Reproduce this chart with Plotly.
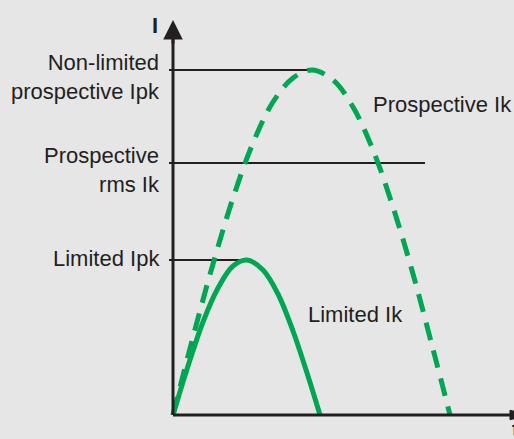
import plotly.graph_objects as go

# curves (t and I in arbitrary units)
t_prospective = [0, 20, 40, 60, 80, 100, 120, 139, 160, 180, 200, 220, 240, 260, 277]
i_prospective = [0, 78, 151, 217, 272, 313, 337, 345, 335, 308, 265, 208, 141, 66, 0]

t_limited = [0, 15, 30, 45, 60, 74, 90, 105, 120, 135, 147]
i_limited = [0, 49, 93, 127, 149, 155, 145, 121, 84, 39, 0]

# horizontal reference levels and how far each line runs
level_names = ["Non-limited<br>prospective Ipk", "Prospective<br>rms Ik", "Limited Ipk"]
level_values = [345, 252, 155]
level_ends = [143, 252, 75]

ink = "#231f20"
green = "#00a651"
font = "Liberation Sans, Arial, sans-serif"
fsize = 22

fig = go.Figure()

for name, val, end in zip(level_names, level_values, level_ends):
    fig.add_trace(go.Scatter(x=[-4, end], y=[val, val], mode="lines",
                             line=dict(color=ink, width=2), hoverinfo="skip"))

fig.add_trace(go.Scatter(x=t_prospective, y=i_prospective, mode="lines",
                         line=dict(color=green, width=5, dash="18px,11px", shape="spline"),
                         name="Prospective Ik"))
fig.add_trace(go.Scatter(x=t_limited, y=i_limited, mode="lines",
                         line=dict(color=green, width=5, shape="spline"),
                         name="Limited Ik"))

# axes
fig.add_shape(type="line", x0=0, y0=0, x1=0, y1=380, line=dict(color=ink, width=3))
fig.add_shape(type="line", x0=0, y0=0, x1=345, y1=0, line=dict(color=ink, width=3))
fig.add_annotation(x=0, y=395, ax=0, ay=370, xref="x", yref="y", axref="x", ayref="y",
                   showarrow=True, arrowhead=2, arrowsize=1.3, arrowwidth=3, arrowcolor=ink, text="")
# x arrowhead, running off the right edge like in the source
fig.add_shape(type="path", xref="paper", yref="paper",
              path="M 0.9922 0.0655 L 1.03 0.0547 L 0.9922 0.0439 Z",
              fillcolor=ink, line=dict(color=ink, width=1))

fig.add_annotation(x=-18, y=390, text="<b>I</b>", showarrow=False,
                   font=dict(size=fsize, color=ink, family=font))
fig.add_annotation(x=0.992, y=-0.012, xref="paper", yref="paper", text="<b>t</b>",
                   showarrow=False, xanchor="left", yanchor="bottom",
                   font=dict(size=fsize, color=ink, family=font))

label_y = [338, 245, 157]
for name, y in zip(level_names, label_y):
    fig.add_annotation(x=-11, y=y, text=name, showarrow=False, xanchor="right", align="right",
                       font=dict(size=fsize, color=ink, family=font))

fig.add_annotation(x=198, y=311, text="Prospective Ik", showarrow=False, xanchor="left",
                   font=dict(size=fsize, color=ink, family=font))
fig.add_annotation(x=133, y=101, text="Limited Ik", showarrow=False, xanchor="left",
                   font=dict(size=fsize, color=ink, family=font))

fig.update_layout(
    width=514, height=439,
    margin=dict(l=0, r=0, t=0, b=0),
    paper_bgcolor="#e6e6e6", plot_bgcolor="#e6e6e6",
    showlegend=False,
    xaxis=dict(range=[-173, 341], visible=False, fixedrange=True),
    yaxis=dict(range=[-24, 415], visible=False, fixedrange=True),
)

fig.write_html("out.html", config=dict(displayModeBar=False),
               post_script="document.body.style.margin='0';")
